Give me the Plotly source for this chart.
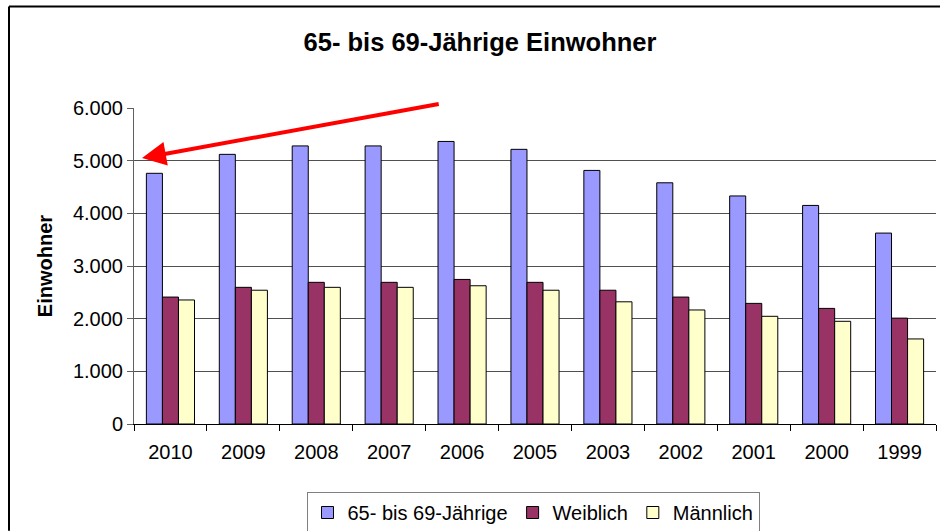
import plotly.graph_objects as go

years = ["2010", "2009", "2008", "2007", "2006", "2005", "2003", "2002", "2001", "2000", "1999"]
gesamt = [4760, 5120, 5280, 5280, 5365, 5215, 4815, 4580, 4330, 4150, 3625]
weiblich = [2410, 2595, 2690, 2690, 2745, 2690, 2540, 2410, 2290, 2195, 2010]
maennlich = [2355, 2540, 2595, 2595, 2625, 2540, 2320, 2165, 2045, 1950, 1615]
y_ticks = [0, 1000, 2000, 3000, 4000, 5000, 6000]
y_tick_labels = ["0", "1.000", "2.000", "3.000", "4.000", "5.000", "6.000"]

FONT = "Liberation Sans, Arial, sans-serif"

fig = go.Figure()
for name, vals, col in [("65- bis 69-Jährige", gesamt, "#9999FF"),
                        ("Weiblich", weiblich, "#993366"),
                        ("Männlich", maennlich, "#FFFFCC")]:
    fig.add_trace(go.Bar(x=years, y=vals, name=name, marker=dict(color=col, line=dict(color="black", width=1))))

fig.update_layout(
    width=940, height=531,
    paper_bgcolor="white", plot_bgcolor="white",
    margin=dict(l=134, r=4, t=108, b=107, autoexpand=False),
    barmode="group", bargap=0.34, bargroupgap=0,
    font=dict(family=FONT, size=20, color="black"),
    title=dict(text="<b>65- bis 69-Jährige Einwohner</b>", xref="container", x=0.5106, xanchor="center",
               yref="container", y=1 - 42 / 531, yanchor="middle", font=dict(size=25.5, family=FONT, color="black")),
    showlegend=True,
    legend=dict(orientation="h", xref="container", x=533 / 940, xanchor="center",
                yref="container", y=1 - 492 / 531, yanchor="top",
                bordercolor="#808080", borderwidth=1, font=dict(size=20, family=FONT),
                itemwidth=30, traceorder="normal"),
    xaxis=dict(type="category", range=[-0.5, len(years) - 0.5], autorange=False,
               showline=True, linecolor="black", linewidth=1,
               ticks="outside", tickson="boundaries", ticklen=6, tickcolor="black",
               ticklabelstandoff=10, showgrid=False, automargin=False),
    yaxis=dict(range=[0, 6000], autorange=False, tickvals=y_ticks, ticktext=y_tick_labels,
               showline=True, linecolor="#606060", linewidth=1, ticks="outside", ticklen=6,
               tickcolor="#606060", showgrid=True, gridcolor="#505050", gridwidth=1,
               ticklabelstandoff=0, zeroline=False, automargin=False,
               title=dict(text="<b>Einwohner</b>", standoff=14, font=dict(size=20, family=FONT))),
)

# outer chart border (only top and left edges visible, as in the cropped reference)
bx = (9 - 134) / 802
by = (424.3 - 6.7) / 316
fig.add_shape(type="line", xref="paper", yref="paper", x0=bx, x1=(940 - 134) / 802, y0=by, y1=by,
              line=dict(color="black", width=2), layer="above")
fig.add_shape(type="line", xref="paper", yref="paper", x0=bx, x1=bx, y0=by, y1=(424.3 - 531) / 316,
              line=dict(color="black", width=2), layer="above")

# red arrow annotation
fig.add_annotation(x=-0.39, y=5050, xref="x", yref="y", ax=3.70, ay=6080, axref="x", ayref="y",
                   text="", showarrow=True, arrowhead=2, arrowsize=1.2, arrowwidth=4, arrowcolor="#FF0000")

fig.write_html("out.html", config={"displayModeBar": False},
               post_script="document.body.style.margin='0';document.body.style.overflow='hidden';"
                           "document.documentElement.style.overflow='hidden';")
